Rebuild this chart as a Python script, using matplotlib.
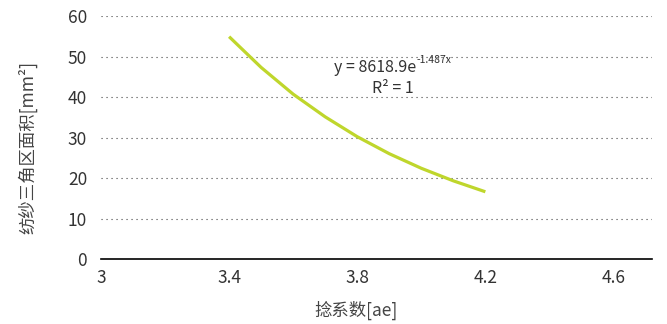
import matplotlib
matplotlib.use("Agg")
import matplotlib.pyplot as plt

plt.rcParams['font.family'] = ['Noto Sans CJK SC', 'DejaVu Sans']

# twist factor vs. spinning triangle area
twist = [3.40, 3.50, 3.60, 3.70, 3.80, 3.90, 4.00, 4.10, 4.20]
area = [54.9, 47.3, 40.7, 35.1, 30.2, 26.0, 22.4, 19.3, 16.6]

xticks = [3, 3.4, 3.8, 4.2, 4.6]
yticks = [0, 10, 20, 30, 40, 50, 60]

fig = plt.figure(figsize=(6.67, 3.24), dpi=100)
ax = fig.add_axes([0.1514, 0.2006, 0.826, 0.75])

ax.plot(twist, area, color='#bfd62c', lw=2.3, solid_capstyle='butt')

ax.set_xlim(3, 4.72)
ax.set_ylim(0, 60)
ax.set_xticks(xticks)
ax.set_xticklabels([f"{v:g}" for v in xticks])
ax.set_yticks(yticks)

for y in yticks[1:]:
    ax.axhline(y, color='#444444', lw=0.8, linestyle=(0, (1, 3.5)), zorder=0)

for s in ['top', 'right', 'left']:
    ax.spines[s].set_visible(False)
ax.spines['bottom'].set_color('black')
ax.spines['bottom'].set_linewidth(1.2)
ax.tick_params(length=0, labelsize=12.5, colors='#333333')
ax.tick_params(axis='y', pad=10)
ax.tick_params(axis='x', pad=7)

ax.set_xlabel("捻系数[ae]", fontsize=12.5, color='#444444')
ax.xaxis.set_label_coords(0.463, -0.17)
ax.set_ylabel("纺纱三角区面积[mm²]", fontsize=12.5, color='#444444')
ax.yaxis.set_label_coords(-0.115, 0.46)

# trendline equation, exponent drawn as a small raised label
ax.text(3.984, 47.4, "y = 8618.9e", fontsize=11.5, color='#333333',
        ha='right', va='center')
ax.annotate("-1.487x", xy=(3.984, 47.4), xytext=(0.5, 5), textcoords='offset points',
            fontsize=7.5, color='#333333', ha='left', va='center')
ax.text(3.9125, 42.2, "R² = 1", fontsize=11.5, color='#333333',
        ha='center', va='center')

fig.savefig('out.png', dpi=100)
